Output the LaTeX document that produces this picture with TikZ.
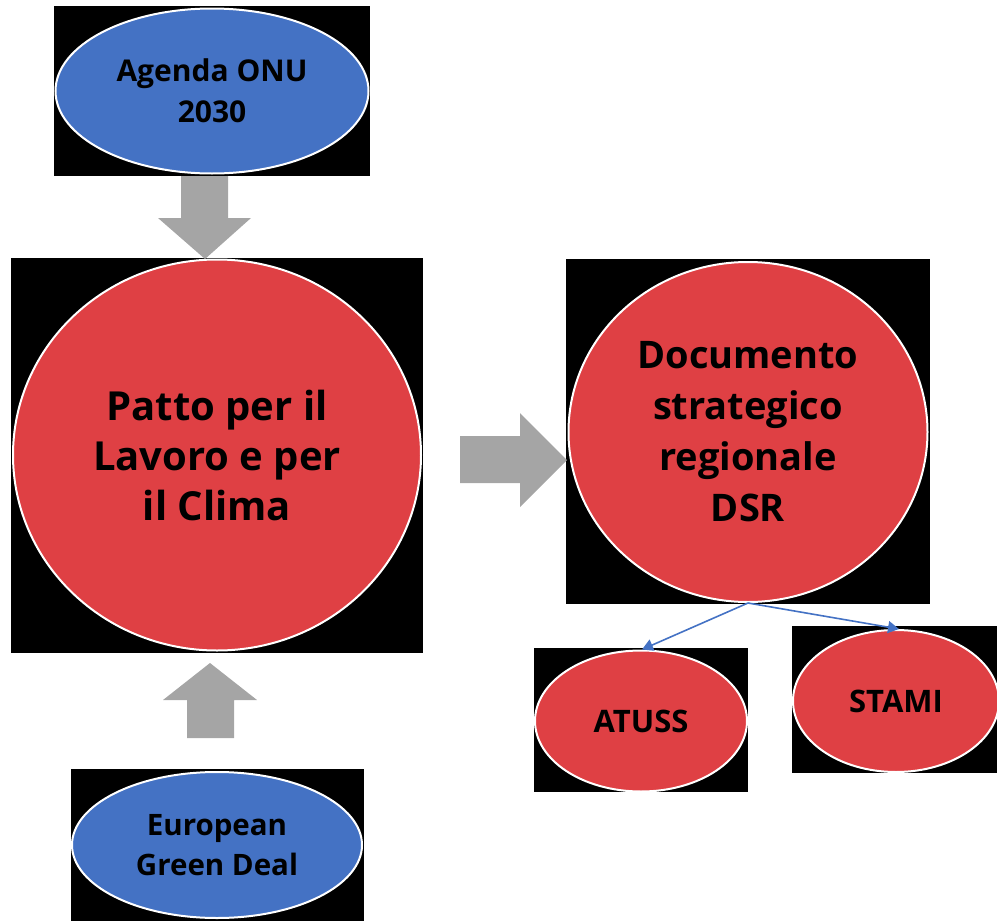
\documentclass[tikz,border=0pt]{standalone}
\usepackage{fontspec}
\setmainfont{Open Sans}
\usetikzlibrary{shapes.geometric,arrows.meta}
\definecolor{ublue}{HTML}{4472C4}
\definecolor{ured}{HTML}{DF4044}
\definecolor{ugray}{HTML}{A5A5A5}
\tikzset{
  backrect/.style={fill=black},
  bubble/.style={ellipse,draw=white,line width=2pt,inner sep=0pt,align=center,text=black},
  bluebubble/.style={bubble,fill=ublue},
  redbubble/.style={bubble,fill=ured},
  blockarrow/.style={fill=ugray},
  link/.style={draw=ublue,line width=1.6pt,-{Triangle[length=11pt,width=12pt]}},
}
\begin{document}
\begin{tikzpicture}[x=1pt,y=-1pt]
\useasboundingbox (0,0) rectangle (997,921);
% black backing rectangles
\fill[backrect] (54,6) rectangle (370,176);
\fill[backrect] (11,258) rectangle (423,653);
\fill[backrect] (71,769) rectangle (364,921);
\fill[backrect] (566,259) rectangle (930,604);
\fill[backrect] (534,648) rectangle (748,792);
\fill[backrect] (792,626) rectangle (997,773);
% nodes
\node[bluebubble,minimum width=313pt,minimum height=165pt,
  font=\bfseries\fontsize{30}{41}\selectfont] (agenda) at (212,91)
  {Agenda ONU\\2030};
\node[redbubble,minimum width=408pt,minimum height=391pt,
  font=\bfseries\fontsize{40}{50}\selectfont] (patto) at (217,455)
  {Patto per il\\Lavoro e per\\il Clima};
\node[bluebubble,minimum width=290pt,minimum height=146pt,
  font=\bfseries\fontsize{29.5}{40}\selectfont] (green) at (217,845)
  {\raisebox{-3pt}{European}\\\raisebox{-3pt}{Green Deal}};
\node[redbubble,minimum width=359pt,minimum height=340pt,
  font=\bfseries\fontsize{38}{51}\selectfont] (doc) at (748,432)
  {Documento\\strategico\\regionale\\DSR};
\node[redbubble,minimum width=212pt,minimum height=141pt,
  font=\bfseries\fontsize{31}{40}\selectfont] (atuss) at (641,721)
  {ATUSS};
\node[redbubble,minimum width=206pt,minimum height=142pt,
  font=\bfseries\fontsize{31}{40}\selectfont] (stami) at (896,701)
  {STAMI};
% block arrows
\fill[blockarrow] (181,176) -- (228,176) -- (228,218) -- (251,218) -- (205,259)
  -- (158,218) -- (181,218) -- cycle;
\fill[blockarrow] (460,436) -- (520,436) -- (520,413) -- (567,460) -- (520,507)
  -- (520,483) -- (460,483) -- cycle;
\fill[blockarrow] (187,738) -- (234,738) -- (234,700) -- (257,700) -- (210,663)
  -- (163,700) -- (187,700) -- cycle;
% thin connectors
\draw[link] (doc.south) -- ([xshift=1pt]atuss.north);
\draw[link] (doc.south) -- ([xshift=3pt]stami.north);
\end{tikzpicture}
\end{document}
